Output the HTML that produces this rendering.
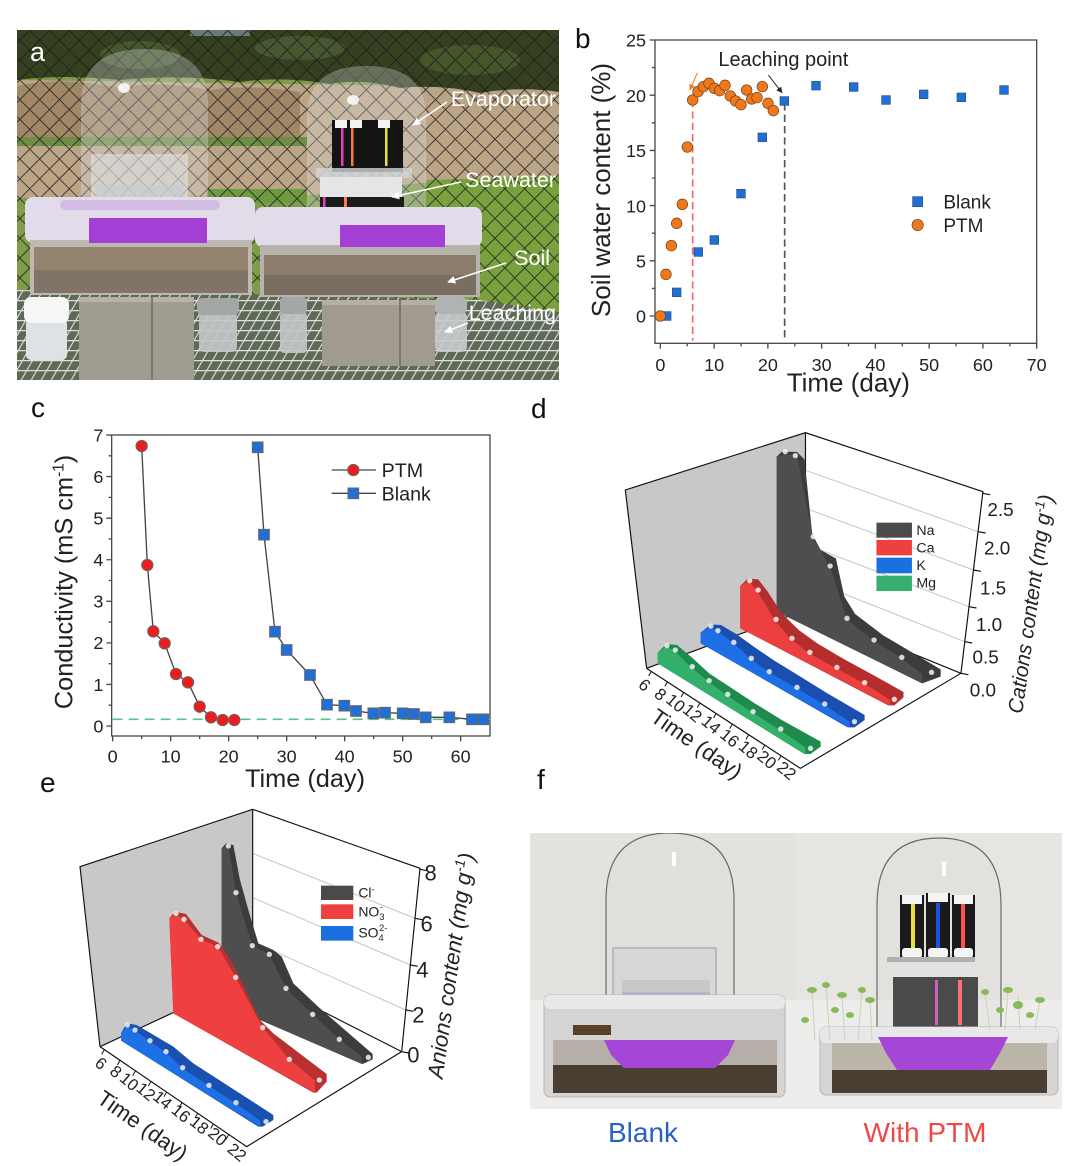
<!DOCTYPE html>
<html><head><meta charset="utf-8">
<style>
html,body{margin:0;padding:0;background:#fff;}
svg{display:block;font-family:"Liberation Sans",Arial,sans-serif;}
</style></head><body>
<svg width="1080" height="1166" viewBox="0 0 1080 1166" xmlns="http://www.w3.org/2000/svg">
<defs>
 <clipPath id="ca"><rect x="17" y="30" width="542" height="350"/></clipPath>
 <clipPath id="cf"><rect x="530" y="833" width="532" height="276"/></clipPath>
 <pattern id="fence" width="14" height="14" patternUnits="userSpaceOnUse" patternTransform="rotate(45)">
   <path d="M0,0 H14 M0,0 V14" stroke="#1a1a1a" stroke-width="1.8" fill="none"/>
 </pattern>
 <pattern id="grid" width="10" height="10" patternUnits="userSpaceOnUse" patternTransform="skewX(-30)">
   <rect width="10" height="10" fill="#5e6a56"/>
   <path d="M0,0 H10 M0,0 V10" stroke="#dcdfe0" stroke-width="2.6"/>
 </pattern>
 <marker id="ah" viewBox="0 0 10 10" refX="9" refY="5" markerWidth="5" markerHeight="5" orient="auto"><path d="M0,0 L10,5 L0,10 Z" fill="#fff"/></marker>
 <marker id="ahk" viewBox="0 0 10 10" refX="9" refY="5" markerWidth="6" markerHeight="6" orient="auto"><path d="M0,0 L10,5 L0,10 Z" fill="#222"/></marker>
 <marker id="aho" viewBox="0 0 10 10" refX="9" refY="5" markerWidth="6" markerHeight="6" orient="auto"><path d="M0,0 L10,5 L0,10 Z" fill="#f07818"/></marker>
</defs>

<!-- ================= PANEL A (photo) ================= -->
<g clip-path="url(#ca)">
 <rect x="17" y="30" width="542" height="350" fill="#7e9c4a"/>
 <!-- ground / dirt -->
 <polygon points="17,80 559,88 559,180 430,182 300,196 17,198" fill="#bca587"/>
 <path d="M17,86 Q60,76 120,88 Q160,80 210,90 Q250,84 300,92 V138 H17 Z" fill="#a08867"/>
 <rect x="17" y="137" width="290" height="9" fill="#6f8e45"/>
 <polygon points="427,180 559,176 559,312 430,306" fill="#79a23f"/>
 <rect x="207" y="189" width="100" height="14" fill="#6f9a40"/>
 <!-- trees -->
 <path d="M17,30 H559 V92 Q520,86 480,93 Q440,84 400,88 Q360,78 330,84 Q280,76 240,82 Q180,74 120,80 Q60,74 17,80 Z" fill="#34401f"/>
 <ellipse cx="140" cy="55" rx="40" ry="14" fill="#4f6233" opacity="0.7"/>
 <ellipse cx="300" cy="48" rx="45" ry="12" fill="#55683a" opacity="0.6"/>
 <ellipse cx="470" cy="60" rx="50" ry="15" fill="#4d6030" opacity="0.7"/>
 <rect x="190" y="30" width="60" height="6" fill="#8fa2b0" opacity="0.6"/>
 <!-- fence -->
 <rect x="17" y="30" width="542" height="280" fill="url(#fence)" opacity="0.85"/>
 <!-- grid floor -->
 <polygon points="17,290 300,295 480,300 559,312 559,380 17,380" fill="url(#grid)"/>
 <!-- left dome -->
 <path d="M82,205 V105 Q82,50 145,50 Q207,50 207,105 V205 Z" fill="#e8eef4" opacity="0.28" stroke="#f2f5f8" stroke-width="2"/>
 <ellipse cx="124" cy="88" rx="6" ry="5" fill="#fff" opacity="0.85"/>
 <rect x="92" y="155" width="95" height="55" fill="#e2e8ee" opacity="0.5" stroke="#f4f6f8" stroke-width="1.5"/>
 <rect x="96" y="185" width="87" height="22" fill="#c4ccd4" opacity="0.6"/>
 <rect x="96" y="200" width="87" height="6" fill="#8a5ab0" opacity="0.7"/>
 <!-- right dome -->
 <path d="M308,217 V118 Q308,67 366,67 Q425,67 425,118 V217 Z" fill="#e4eaee" opacity="0.28" stroke="#f2f5f8" stroke-width="2"/>
 <ellipse cx="353" cy="100" rx="6" ry="5" fill="#fff" opacity="0.85"/>
 <!-- evaporator -->
 <rect x="332" y="120" width="71" height="52" fill="#141414"/>
 <rect x="335" y="120" width="12" height="8" fill="#f2f2f2"/>
 <rect x="350" y="120" width="12" height="8" fill="#f2f2f2"/>
 <rect x="378" y="120" width="12" height="8" fill="#f2f2f2"/>
 <rect x="341" y="128" width="2.5" height="38" fill="#e040c0"/>
 <rect x="351" y="128" width="2.5" height="38" fill="#ff7a30"/>
 <rect x="385" y="128" width="2.5" height="38" fill="#e8e040"/>
 <rect x="316" y="168" width="96" height="10" fill="#cfd4d8" opacity="0.8"/>
 <rect x="320" y="177" width="82" height="20" fill="#e6e6e6"/>
 <rect x="320" y="197" width="84" height="25" fill="#1c1c1c"/>
 <rect x="323" y="197" width="2.5" height="23" fill="#e040c0"/>
 <rect x="344" y="197" width="3" height="23" fill="#ff7a50"/>
 <!-- left box -->
 <rect x="25" y="197" width="230" height="46" rx="8" fill="#e2dcea"/>
 <rect x="60" y="200" width="160" height="10" rx="5" fill="#c9a8e0" opacity="0.6"/>
 <rect x="30" y="240" width="222" height="55" fill="#bdb8b2"/>
 <rect x="34" y="247" width="214" height="46" fill="#94846f"/>
 <rect x="34" y="270" width="214" height="23" fill="#807468"/>
 <rect x="89" y="218" width="118" height="25" fill="#a43fd6"/>
 <!-- right box -->
 <rect x="255" y="207" width="227" height="40" rx="8" fill="#e2dcea"/>
 <rect x="260" y="245" width="220" height="52" fill="#b8b2ac"/>
 <rect x="264" y="255" width="212" height="40" fill="#8c7c6c"/>
 <rect x="264" y="275" width="212" height="20" fill="#7a6e62"/>
 <rect x="340" y="225" width="105" height="22" fill="#a43fd6"/>
 <!-- bricks -->
 <rect x="79" y="297" width="115" height="85" fill="#a19c92"/>
 <rect x="79" y="297" width="115" height="5" fill="#b8b2a6"/>
 <line x1="152" y1="297" x2="152" y2="385" stroke="#7c786f" stroke-width="2"/>
 <rect x="322" y="300" width="113" height="66" fill="#a09a90"/>
 <rect x="322" y="300" width="113" height="5" fill="#b5afa3"/>
 <line x1="400" y1="300" x2="400" y2="366" stroke="#7c786f" stroke-width="2"/>
 <!-- cups -->
 <rect x="26" y="318" width="41" height="42" rx="5" fill="#dde2e4"/>
 <rect x="24" y="297" width="45" height="26" rx="7" fill="#f6f6f6"/>
 <rect x="199" y="312" width="38" height="40" rx="5" fill="#c4c8c8" opacity="0.9"/>
 <rect x="197" y="298" width="42" height="17" rx="5" fill="#a4a7a7"/>
 <rect x="280" y="312" width="27" height="41" rx="4" fill="#c4c8c8" opacity="0.9"/>
 <rect x="280" y="297" width="27" height="17" rx="4" fill="#a4a7a7"/>
 <rect x="435" y="312" width="32" height="40" rx="5" fill="#c8cccc" opacity="0.9"/>
 <rect x="435" y="297" width="32" height="17" rx="5" fill="#b0b3b3"/>
 <!-- labels -->
 <g fill="#fff" font-size="21.5" text-anchor="end">
  <text x="556" y="106">Evaporator</text>
  <text x="556" y="187">Seawater</text>
  <text x="550" y="265">Soil</text>
  <text x="556" y="320">Leaching</text>
 </g>
 <g stroke="#fff" stroke-width="1.6" fill="none" marker-end="url(#ah)">
  <line x1="447" y1="102" x2="413" y2="125"/>
  <line x1="461" y1="182" x2="392" y2="197"/>
  <line x1="506" y1="263" x2="448" y2="282"/>
  <line x1="468" y1="323" x2="445" y2="332"/>
 </g>
 <text x="30" y="61" font-size="27" fill="#fff">a</text>
</g>

<!-- ================= PANEL B ================= -->
<text x="575" y="48" font-size="28" fill="#111">b</text>
<g transform="translate(580,20) scale(0.33333)" fill="#222">
 <rect x="225" y="60" width="1145" height="910" fill="none" stroke="#4a4a4a" stroke-width="4"/>
 <path d="M225,888h-16M225,722.4h-16M225,556.8h-16M225,391.2h-16M225,225.6h-16M225,60h-16
  M225,805.2h-9M225,639.6h-9M225,474h-9M225,308.4h-9M225,142.8h-9
  M241,970v16M402.3,970v16M563.6,970v16M724.9,970v16M886.2,970v16M1047.5,970v16M1208.8,970v16M1370,970v16
  M321.7,970v9M483,970v9M644.3,970v9M805.6,970v9M966.9,970v9M1128.2,970v9M1289.5,970v9" stroke="#4a4a4a" stroke-width="4"/>
 <g font-size="54" text-anchor="end">
  <text x="198" y="80">25</text><text x="198" y="245.6">20</text><text x="198" y="411.2">15</text>
  <text x="198" y="576.8">10</text><text x="198" y="742.4">5</text><text x="198" y="908">0</text>
 </g>
 <g font-size="54" text-anchor="middle">
  <text x="241" y="1053">0</text><text x="402.3" y="1053">10</text><text x="563.6" y="1053">20</text>
  <text x="724.9" y="1053">30</text><text x="886.2" y="1053">40</text><text x="1047.5" y="1053">50</text>
  <text x="1208.8" y="1053">60</text><text x="1370" y="1053">70</text>
 </g>
 <text x="805" y="1114" font-size="78" text-anchor="middle">Time (day)</text>
 <text transform="translate(90,510) rotate(-90)" font-size="78" text-anchor="middle">Soil water content (%)</text>
 <line x1="338" y1="240" x2="338" y2="962" stroke="#f06868" stroke-width="5" stroke-dasharray="22,12"/>
 <line x1="614" y1="250" x2="614" y2="962" stroke="#555" stroke-width="5" stroke-dasharray="22,12"/>
 <line x1="352" y1="158" x2="330" y2="210" stroke="#f07818" stroke-width="3" marker-end="url(#aho)"/>
 <line x1="565" y1="165" x2="606" y2="218" stroke="#222" stroke-width="3" marker-end="url(#ahk)"/>
 <text x="415" y="138" font-size="60">Leaching point</text>
 <g fill="#1f6fd6" stroke="#2c4f86" stroke-width="2">
  <rect x="247" y="875" width="26" height="26"/><rect x="277" y="804" width="26" height="26"/>
  <rect x="342" y="683" width="26" height="26"/><rect x="390" y="647" width="26" height="26"/>
  <rect x="470" y="508" width="26" height="26"/><rect x="534" y="339" width="26" height="26"/>
  <rect x="600" y="230" width="26" height="26"/><rect x="695" y="184" width="26" height="26"/>
  <rect x="808" y="188" width="26" height="26"/><rect x="905" y="227" width="26" height="26"/>
  <rect x="1018" y="210" width="26" height="26"/><rect x="1131" y="219" width="26" height="26"/>
  <rect x="1259" y="197" width="26" height="26"/>
  <rect x="998" y="530" width="30" height="30"/>
 </g>
 <g fill="#f07818" stroke="#6b4020" stroke-width="2">
  <circle cx="241" cy="888" r="16"/><circle cx="258" cy="763" r="16"/><circle cx="274" cy="677" r="16"/>
  <circle cx="290" cy="610" r="16"/><circle cx="307" cy="553" r="16"/><circle cx="322" cy="381" r="16"/>
  <circle cx="338" cy="240" r="16"/><circle cx="354" cy="215" r="16"/><circle cx="370" cy="200" r="16"/>
  <circle cx="387" cy="190" r="16"/><circle cx="403" cy="205" r="16"/><circle cx="419" cy="212" r="16"/>
  <circle cx="435" cy="196" r="16"/><circle cx="451" cy="228" r="16"/><circle cx="467" cy="243" r="16"/>
  <circle cx="483" cy="254" r="16"/><circle cx="500" cy="210" r="16"/><circle cx="515" cy="237" r="16"/>
  <circle cx="531" cy="233" r="16"/><circle cx="547" cy="200" r="16"/><circle cx="564" cy="250" r="16"/>
  <circle cx="580" cy="272" r="16"/>
  <circle cx="1013" cy="615" r="17"/>
 </g>
 <text x="1090" y="566" font-size="57">Blank</text>
 <text x="1090" y="636" font-size="57">PTM</text>
</g>

<!-- ================= PANEL C ================= -->
<text x="31" y="417" font-size="28" fill="#111">c</text>
<g transform="translate(40,410) scale(0.33333)" fill="#222">
 <rect x="215" y="75" width="1135" height="903" fill="none" stroke="#4a4a4a" stroke-width="4"/>
 <path d="M215,948h-16M215,823.3h-16M215,698.6h-16M215,573.9h-16M215,449.2h-16M215,324.5h-16M215,199.8h-16M215,75.1h-16
  M215,885.65h-9M215,760.95h-9M215,636.25h-9M215,511.55h-9M215,386.85h-9M215,262.15h-9M215,137.45h-9
  M218,978v16M392,978v16M566,978v16M740,978v16M914,978v16M1088,978v16M1262,978v16
  M305,978v9M479,978v9M653,978v9M827,978v9M1001,978v9M1175,978v9" stroke="#4a4a4a" stroke-width="4"/>
 <g font-size="54" text-anchor="end">
  <text x="190" y="967">0</text><text x="190" y="842.3">1</text><text x="190" y="717.6">2</text>
  <text x="190" y="592.9">3</text><text x="190" y="468.2">4</text><text x="190" y="343.5">5</text>
  <text x="190" y="218.8">6</text><text x="190" y="94.1">7</text>
 </g>
 <g font-size="54" text-anchor="middle">
  <text x="218" y="1058">0</text><text x="392" y="1058">10</text><text x="566" y="1058">20</text>
  <text x="740" y="1058">30</text><text x="914" y="1058">40</text><text x="1088" y="1058">50</text>
  <text x="1262" y="1058">60</text>
 </g>
 <text x="795" y="1131" font-size="76" text-anchor="middle">Time (day)</text>
 <text transform="translate(98,516) rotate(-90)" font-size="76" text-anchor="middle">Conductivity (mS cm<tspan dy="-28" font-size="46">-1</tspan><tspan dy="28">)</tspan></text>
 <line x1="218" y1="928" x2="1350" y2="928" stroke="#5cc08a" stroke-width="5" stroke-dasharray="30,18"/>
 <polyline points="305,108 322,465 340,664 374,700 408,792 444,817 479,890 513,922 548,930 583,930" fill="none" stroke="#444" stroke-width="4"/>
 <polyline points="653,112 672,374 705,665 740,720 810,795 861,884 913,887 948,903 1000,910 1035,908 1088,910 1122,912 1157,922 1228,922 1296,928 1330,928" fill="none" stroke="#444" stroke-width="4"/>
 <g fill="#1f6fd6" stroke="#666" stroke-width="3">
  <rect x="637" y="96" width="32" height="32"/><rect x="656" y="358" width="32" height="32"/>
  <rect x="689" y="649" width="32" height="32"/><rect x="724" y="704" width="32" height="32"/>
  <rect x="794" y="779" width="32" height="32"/><rect x="845" y="868" width="32" height="32"/>
  <rect x="897" y="871" width="32" height="32"/><rect x="932" y="887" width="32" height="32"/>
  <rect x="984" y="894" width="32" height="32"/><rect x="1019" y="892" width="32" height="32"/>
  <rect x="1072" y="894" width="32" height="32"/><rect x="1106" y="896" width="32" height="32"/>
  <rect x="1141" y="906" width="32" height="32"/><rect x="1212" y="906" width="32" height="32"/>
  <rect x="1280" y="912" width="32" height="32"/><rect x="1314" y="912" width="32" height="32"/>
 </g>
 <g fill="#ee1c1c" stroke="#666" stroke-width="3">
  <circle cx="305" cy="108" r="17"/><circle cx="322" cy="465" r="17"/><circle cx="340" cy="664" r="17"/>
  <circle cx="374" cy="700" r="17"/><circle cx="408" cy="792" r="17"/><circle cx="444" cy="817" r="17"/>
  <circle cx="479" cy="890" r="17"/><circle cx="513" cy="922" r="17"/><circle cx="548" cy="930" r="17"/>
  <circle cx="583" cy="930" r="17"/>
 </g>
 <line x1="875" y1="180" x2="1008" y2="180" stroke="#444" stroke-width="4"/>
 <circle cx="940" cy="180" r="17" fill="#ee1c1c" stroke="#666" stroke-width="3"/>
 <line x1="875" y1="250" x2="1008" y2="250" stroke="#444" stroke-width="4"/>
 <rect x="924" y="234" width="32" height="32" fill="#1f6fd6" stroke="#666" stroke-width="3"/>
 <text x="1025" y="201" font-size="59">PTM</text>
 <text x="1025" y="271" font-size="59">Blank</text>
</g>

<!-- ================= PANEL D ================= -->
<text x="531" y="418" font-size="28" fill="#111">d</text>
<g transform="translate(530,410) scale(0.338,0.33333)" fill="#222">
 <polygon points="282,240 815,68 815,600 345,775" fill="#c8c8c8"/>
 <g stroke="#c4c4c4" stroke-width="3">
  <line x1="815" y1="181" x2="1325.7" y2="365"/><line x1="815" y1="295" x2="1312" y2="480"/>
  <line x1="815" y1="403" x2="1298.9" y2="590"/><line x1="815" y1="506" x2="1286.3" y2="695"/>
 </g>
 <g stroke="#111" stroke-width="3.5" fill="none">
  <polyline points="345,775 282,240 815,68 1340,245 1275,790 800,1075 345,775"/>
  <line x1="815" y1="68" x2="815" y2="600"/>
  <polyline points="345,775 815,600 1275,790"/>
 </g>
 <polygon points="730,140 745,125 790,126 812,148 835,372 860,420 905,445 930,560 962,612 1045,676 1215,778 1215,800 1160,820 730,605" fill="#3c3c3c"/>
 <polygon points="730,140 760,132 790,138 838,385 888,472 938,628 1018,693 1100,745 1160,792 1160,820 730,605" fill="#4e4e4e"/>
 <polygon points="622,528 645,505 675,508 700,540 745,610 795,660 850,700 930,748 1010,792 1105,846 1105,862 1078,886 1060,886 622,655" fill="#b52e2e"/>
 <polygon points="622,528 648,513 672,543 725,632 772,688 826,730 906,775 988,820 1065,870 1065,886 622,655" fill="#ec4040"/>
 <polygon points="505,668 535,643 565,645 610,672 665,712 720,750 800,800 880,850 990,915 990,930 960,952 940,952 505,700" fill="#1a4fb0"/>
 <polygon points="505,668 533,650 556,664 603,700 655,748 708,788 790,835 872,885 945,935 945,952 505,700" fill="#1e6fe6"/>
 <polygon points="378,728 403,702 435,705 482,745 530,790 590,830 665,880 745,930 860,995 860,1010 830,1032 812,1032 378,760" fill="#1e8a4c"/>
 <polygon points="378,728 403,710 428,723 478,773 528,815 583,856 658,908 740,960 815,1012 815,1032 378,760" fill="#33b06a"/>
 <g fill="#f2f2f2" opacity="0.85">
  <circle cx="755" cy="125" r="8"/><circle cx="785" cy="137" r="8"/><circle cx="838" cy="380" r="8"/><circle cx="888" cy="468" r="8"/><circle cx="938" cy="625" r="8"/><circle cx="1018" cy="690" r="8"/><circle cx="1100" cy="742" r="8"/><circle cx="1188" cy="787" r="8"/>
  <circle cx="650" cy="512" r="8"/><circle cx="675" cy="540" r="8"/><circle cx="728" cy="628" r="8"/><circle cx="775" cy="685" r="8"/><circle cx="828" cy="727" r="8"/><circle cx="908" cy="772" r="8"/><circle cx="990" cy="818" r="8"/><circle cx="1078" cy="868" r="8"/>
  <circle cx="535" cy="648" r="8"/><circle cx="556" cy="662" r="8"/><circle cx="603" cy="697" r="8"/><circle cx="655" cy="745" r="8"/><circle cx="708" cy="785" r="8"/><circle cx="790" cy="832" r="8"/><circle cx="872" cy="882" r="8"/><circle cx="960" cy="935" r="8"/>
  <circle cx="405" cy="707" r="8"/><circle cx="430" cy="720" r="8"/><circle cx="480" cy="770" r="8"/><circle cx="530" cy="812" r="8"/><circle cx="585" cy="853" r="8"/><circle cx="660" cy="905" r="8"/><circle cx="742" cy="957" r="8"/><circle cx="830" cy="1015" r="8"/>
 </g>
 <rect x="1025" y="338" width="105" height="45" fill="#4a4a4a"/>
 <rect x="1025" y="390" width="105" height="46" fill="#ee4040"/>
 <rect x="1025" y="443" width="105" height="47" fill="#1a70e0"/>
 <rect x="1025" y="497" width="105" height="46" fill="#35b070"/>
 <g font-size="42">
  <text x="1143" y="375">Na</text><text x="1143" y="428">Ca</text><text x="1143" y="480">K</text><text x="1143" y="533">Mg</text>
 </g>
 <path d="M1339.4,250l22,4M1325.7,365l22,4M1312,480l22,4M1298.9,590l22,4M1286.3,695l22,4M1275,790l22,4" stroke="#111" stroke-width="3.5"/>
 <g font-size="56" text-anchor="middle">
  <text x="1392" y="318">2.5</text><text x="1382" y="433">2.0</text><text x="1370" y="553">1.5</text>
  <text x="1358" y="663">1.0</text><text x="1348" y="760">0.5</text><text x="1340" y="860">0.0</text>
 </g>
 <text transform="translate(1502,585) rotate(-82)" font-size="62" font-style="italic" text-anchor="middle">Cations content (mg g<tspan dy="-22" font-size="40">-1</tspan><tspan dy="22">)</tspan></text>
 <path d="M359,784l-8,14M407,815l-8,14M455,847l-8,14M503,879l-8,14M551,910l-8,14M599,942l-8,14M647,974l-8,14M695,1005l-8,14M743,1037l-8,14" stroke="#111" stroke-width="3"/>
 <g font-size="50" text-anchor="middle">
  <text transform="translate(328,838) rotate(40)">6</text>
  <text transform="translate(375,866) rotate(40)">8</text>
  <text transform="translate(420,892) rotate(40)">10</text>
  <text transform="translate(470,922) rotate(40)">12</text>
  <text transform="translate(525,957) rotate(40)">14</text>
  <text transform="translate(580,997) rotate(40)">16</text>
  <text transform="translate(635,1032) rotate(40)">18</text>
  <text transform="translate(690,1062) rotate(40)">20</text>
  <text transform="translate(748,1095) rotate(40)">22</text>
 </g>
 <text transform="translate(480,1020) rotate(35)" font-size="66" text-anchor="middle">Time (day)</text>
</g>

<!-- ================= PANEL E ================= -->
<text x="40" y="792" font-size="28" fill="#111">e</text>
<g transform="translate(40,770) scale(0.33333)" fill="#222">
 <polygon points="120,290 638,118 638,617 180,830" fill="#c8c8c8"/>
 <g stroke="#c4c4c4" stroke-width="3">
  <line x1="638" y1="250" x2="1125" y2="445"/><line x1="638" y1="383" x2="1111" y2="585"/><line x1="638" y1="515" x2="1097.5" y2="720"/>
 </g>
 <g stroke="#111" stroke-width="3.5" fill="none">
  <polyline points="180,830 120,290 638,118 1140,295 1085,845 620,1130 180,830"/>
  <line x1="638" y1="118" x2="638" y2="617"/>
  <polyline points="180,830 638,617 1085,845"/>
 </g>
 <polygon points="545,235 558,220 580,225 600,330 628,430 655,520 700,540 725,560 760,640 840,715 998,852 998,868 968,882 545,700" fill="#3c3c3c"/>
 <polygon points="545,235 565,228 588,368 637,527 688,553 738,655 818,733 898,808 965,860 965,882 545,700" fill="#4e4e4e"/>
 <polygon points="388,445 405,425 438,432 485,495 535,518 560,550 600,625 660,750 700,790 860,912 860,935 830,968 820,968 400,730" fill="#b83030"/>
 <polygon points="388,445 408,432 432,448 483,508 533,530 587,622 668,773 748,868 825,932 825,968 400,730" fill="#ee4040"/>
 <polygon points="243,790 260,760 290,765 400,830 460,880 700,1035 700,1050 668,1070 655,1070 243,812" fill="#1a50b0"/>
 <polygon points="243,790 262,768 285,782 330,814 378,847 428,895 507,948 588,1000 660,1052 660,1070 243,812" fill="#1e70e6"/>
 <g fill="#f2f2f2" opacity="0.85">
  <circle cx="565" cy="228" r="8"/><circle cx="588" cy="368" r="8"/><circle cx="637" cy="527" r="8"/><circle cx="688" cy="553" r="8"/><circle cx="738" cy="655" r="8"/><circle cx="818" cy="733" r="8"/><circle cx="898" cy="808" r="8"/><circle cx="985" cy="862" r="8"/>
  <circle cx="408" cy="430" r="8"/><circle cx="432" cy="448" r="8"/><circle cx="483" cy="508" r="8"/><circle cx="533" cy="530" r="8"/><circle cx="587" cy="622" r="8"/><circle cx="668" cy="773" r="8"/><circle cx="748" cy="868" r="8"/><circle cx="838" cy="930" r="8"/>
  <circle cx="262" cy="765" r="8"/><circle cx="285" cy="780" r="8"/><circle cx="330" cy="812" r="8"/><circle cx="378" cy="845" r="8"/><circle cx="428" cy="893" r="8"/><circle cx="507" cy="946" r="8"/><circle cx="588" cy="998" r="8"/><circle cx="678" cy="1055" r="8"/>
 </g>
 <rect x="843" y="347" width="97" height="43" fill="#4a4a4a"/>
 <rect x="843" y="403" width="97" height="44" fill="#ee4040"/>
 <rect x="843" y="468" width="97" height="44" fill="#1a70e0"/>
 <g font-size="42">
  <text x="955" y="383">Cl<tspan dy="-16" font-size="28">-</tspan></text>
  <text x="955" y="440">NO<tspan dy="10" font-size="28">3</tspan><tspan dx="-14" dy="-30" font-size="28">-</tspan></text>
  <text x="955" y="503">SO<tspan dy="10" font-size="28">4</tspan><tspan dx="-14" dy="-30" font-size="28">2-</tspan></text>
 </g>
 <path d="M1139.7,298l22,4M1125,445l22,4M1111,585l22,4M1097.5,720l22,4M1085,845l22,4" stroke="#111" stroke-width="3.5"/>
 <g font-size="66" text-anchor="middle">
  <text x="1172" y="332">8</text><text x="1160" y="484">6</text><text x="1147" y="622">4</text>
  <text x="1135" y="757">2</text><text x="1120" y="877">0</text>
 </g>
 <text transform="translate(1255,590) rotate(-82)" font-size="66" font-style="italic" text-anchor="middle">Anions content (mg g<tspan dy="-24" font-size="42">-1</tspan><tspan dy="24">)</tspan></text>
 <path d="M193,839l-8,14M240,871l-8,14M286,903l-8,14M333,934l-8,14M380,966l-8,14M426,998l-8,14M473,1030l-8,14M520,1062l-8,14M566,1094l-8,14" stroke="#111" stroke-width="3"/>
 <g font-size="50" text-anchor="middle">
  <text transform="translate(172,893) rotate(40)">6</text>
  <text transform="translate(217,918) rotate(40)">8</text>
  <text transform="translate(257,948) rotate(40)">10</text>
  <text transform="translate(307,978) rotate(40)">12</text>
  <text transform="translate(357,1003) rotate(40)">14</text>
  <text transform="translate(412,1043) rotate(40)">16</text>
  <text transform="translate(467,1078) rotate(40)">18</text>
  <text transform="translate(522,1113) rotate(40)">20</text>
  <text transform="translate(580,1160) rotate(40)">22</text>
 </g>
 <text transform="translate(295,1085) rotate(35)" font-size="66" text-anchor="middle">Time (day)</text>
</g>

<!-- ================= PANEL F (photo) ================= -->
<text x="537" y="789" font-size="28" fill="#111">f</text>
<g clip-path="url(#cf)">
 <rect x="530" y="833" width="532" height="276" fill="#e4e2de"/>
 <rect x="795" y="833" width="267" height="276" fill="#e7e5e1"/>
 <rect x="530" y="1000" width="532" height="109" fill="#eeedeb"/>
 <!-- left -->
 <path d="M606,1036 V900 Q606,833 670,833 Q734,833 734,900 V1036" fill="#dadad8" fill-opacity="0.35" stroke="#6a6a6a" stroke-width="1.2"/>
 <rect x="672" y="852" width="4" height="14" fill="#fff"/>
 <rect x="613" y="948" width="103" height="79" fill="#d6d8d8" stroke="#999" stroke-width="1"/>
 <rect x="622" y="980" width="88" height="47" fill="#c6c8c9"/>
 <rect x="622" y="992" width="88" height="5" fill="#b8b4c8"/>
 <rect x="655" y="1010" width="30" height="17" fill="#f4f4f4"/>
 <rect x="544" y="995" width="241" height="102" rx="6" fill="#d6d4d2" stroke="#b8b8b8"/>
 <rect x="544" y="995" width="241" height="14" rx="6" fill="#e8e8e8"/>
 <rect x="573" y="1025" width="38" height="10" fill="#5a4028"/>
 <rect x="553" y="1040" width="224" height="30" fill="#a8a096" opacity="0.7"/>
 <rect x="553" y="1065" width="224" height="28" fill="#4a3e32"/>
 <path d="M604,1040 H735 L728,1055 L715,1068 H624 L611,1055 Z" fill="#a646d6"/>
 <!-- right -->
 <path d="M877,1030 V905 Q877,838 939,838 Q1001,838 1001,905 V1030" fill="#dadad8" fill-opacity="0.35" stroke="#6a6a6a" stroke-width="1.2"/>
 <rect x="942" y="862" width="4" height="14" fill="#fff"/>
 <rect x="900" y="895" width="24" height="63" fill="#1a1a1a"/>
 <rect x="926" y="893" width="24" height="65" fill="#1a1a1a"/>
 <rect x="952" y="895" width="23" height="63" fill="#1a1a1a"/>
 <rect x="911" y="903" width="4" height="45" fill="#e8e040"/>
 <rect x="936" y="903" width="4" height="45" fill="#2050e0"/>
 <rect x="961" y="903" width="4" height="45" fill="#ff5050"/>
 <g fill="#f4f4f4"><rect x="902" y="895" width="20" height="9"/><rect x="928" y="893" width="20" height="9"/><rect x="954" y="895" width="19" height="9"/>
 <rect x="902" y="948" width="20" height="10" rx="3"/><rect x="928" y="948" width="20" height="10" rx="3"/><rect x="954" y="948" width="19" height="10" rx="3"/></g>
 <rect x="887" y="957" width="88" height="5" fill="#b0b0b0"/>
 <rect x="890" y="962" width="85" height="15" fill="#e2e2e2"/>
 <rect x="893" y="977" width="85" height="55" fill="#3a3a3a" opacity="0.9"/>
 <rect x="935" y="980" width="3" height="45" fill="#d060c0"/>
 <rect x="958" y="980" width="4" height="45" fill="#ff7070"/>
 <rect x="820" y="1027" width="238" height="68" rx="6" fill="#d6d4d2" stroke="#b8b8b8"/>
 <rect x="820" y="1027" width="238" height="16" rx="6" fill="#e8e8e8"/>
 <rect x="832" y="1043" width="215" height="27" fill="#b0a898" opacity="0.7"/>
 <rect x="832" y="1070" width="215" height="23" fill="#4a3e32"/>
 <path d="M878,1037 H1008 L1000,1053 L990,1070 H897 L886,1053 Z" fill="#a646d6"/>
 <g stroke="#c8d4b8" stroke-width="1" fill="none">
  <path d="M815,1040 L812,990 M830,1040 L826,985 M845,1040 L842,995 M858,1040 L862,990 M872,1040 L870,1000 M990,1030 L985,992 M1005,1030 L1008,990 M1020,1030 L1018,995 M1035,1030 L1040,1000"/>
 </g>
 <g fill="#8ab85a">
  <ellipse cx="812" cy="990" rx="5" ry="3"/><ellipse cx="826" cy="985" rx="4" ry="3"/><ellipse cx="842" cy="995" rx="5" ry="3"/>
  <ellipse cx="862" cy="990" rx="4" ry="3"/><ellipse cx="870" cy="1000" rx="5" ry="3"/><ellipse cx="835" cy="1010" rx="4" ry="3"/>
  <ellipse cx="805" cy="1020" rx="4" ry="3"/><ellipse cx="850" cy="1015" rx="4" ry="3"/>
  <ellipse cx="985" cy="992" rx="4" ry="3"/><ellipse cx="1008" cy="990" rx="5" ry="3"/><ellipse cx="1018" cy="1005" rx="5" ry="4"/>
  <ellipse cx="1040" cy="1000" rx="5" ry="3"/><ellipse cx="1030" cy="1015" rx="4" ry="3"/><ellipse cx="1000" cy="1010" rx="4" ry="3"/>
 </g>
</g>
<text x="643" y="1142" font-size="28" fill="#2a62c0" text-anchor="middle">Blank</text>
<text x="925" y="1142" font-size="28" fill="#f04848" text-anchor="middle">With PTM</text>
</svg>
</body></html>
